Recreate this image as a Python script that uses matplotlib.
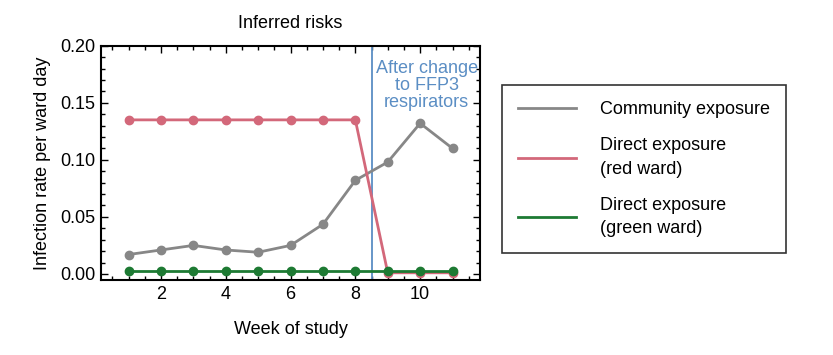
import matplotlib
matplotlib.use("Agg")
import matplotlib.pyplot as plt
from matplotlib.ticker import MultipleLocator

plt.rcParams["font.family"] = ["Liberation Sans", "DejaVu Sans"]

# Data
weeks = [1, 2, 3, 4, 5, 6, 7, 8, 9, 10, 11]
community = [0.017, 0.021, 0.025, 0.021, 0.019, 0.025, 0.0435, 0.082, 0.098, 0.132, 0.110]
red_ward = [0.135, 0.135, 0.135, 0.135, 0.135, 0.135, 0.135, 0.135, 0.001, 0.001, 0.001]
green_ward = [0.003] * 11
change_week = 8.5

grey = "#878787"
red = "#d3687a"
green = "#1d7a33"
blue = "#5b8ec4"

fig = plt.figure(figsize=(8.33, 3.55), dpi=100)
ax = fig.add_axes([0.1213, 0.2113, 0.4550, 0.66])

ax.plot(weeks, community, color=grey, lw=2, marker="o", ms=6, label="Community exposure", zorder=3)
ax.plot(weeks, red_ward, color=red, lw=2, marker="o", ms=6, label="Direct exposure\n(red ward)", zorder=3)
ax.plot(weeks, green_ward, color=green, lw=2, marker="o", ms=6, label="Direct exposure\n(green ward)", zorder=4)
ax.axvline(change_week, color=blue, lw=1.3, zorder=2)
ax.text(10.2, 0.165, "After change\nto FFP3\nrespirators", color=blue, fontsize=13,
        ha="center", va="center", linespacing=1.0)

ax.set_xlim(0.15, 11.85)
ax.set_ylim(-0.0053, 0.2)
ax.xaxis.set_major_locator(MultipleLocator(2))
ax.xaxis.set_minor_locator(MultipleLocator(0.5))
ax.yaxis.set_major_locator(MultipleLocator(0.05))
ax.yaxis.set_minor_locator(MultipleLocator(0.01))
ax.yaxis.set_major_formatter(lambda v, p: f"{v:.2f}")
ax.tick_params(which="both", direction="in", top=True, right=True, labelsize=13, width=1)
ax.tick_params(which="major", length=5, pad=4)
ax.tick_params(which="minor", length=3)
for s in ax.spines.values():
    s.set_linewidth(1.5)

ax.set_title("Inferred risks", fontsize=13, pad=13)
ax.set_xlabel("Week of study", fontsize=13, labelpad=13)
ax.set_ylabel("Infection rate per ward day", fontsize=13, labelpad=7)

fig.legend(loc="upper left", bbox_to_anchor=(502 / 833, 1 - 85 / 355), fontsize=13,
           frameon=True, fancybox=False, edgecolor="black", handlelength=3.2,
           handletextpad=1.3, borderpad=0.9, labelspacing=1.05, borderaxespad=0)
leg = fig.legends[0]
leg.get_frame().set_linewidth(1.2)
for h in leg.legend_handles:
    h.set_marker("")
for t in leg.get_texts():
    t.set_linespacing(1.5)

fig.savefig("out.png", dpi=100)
